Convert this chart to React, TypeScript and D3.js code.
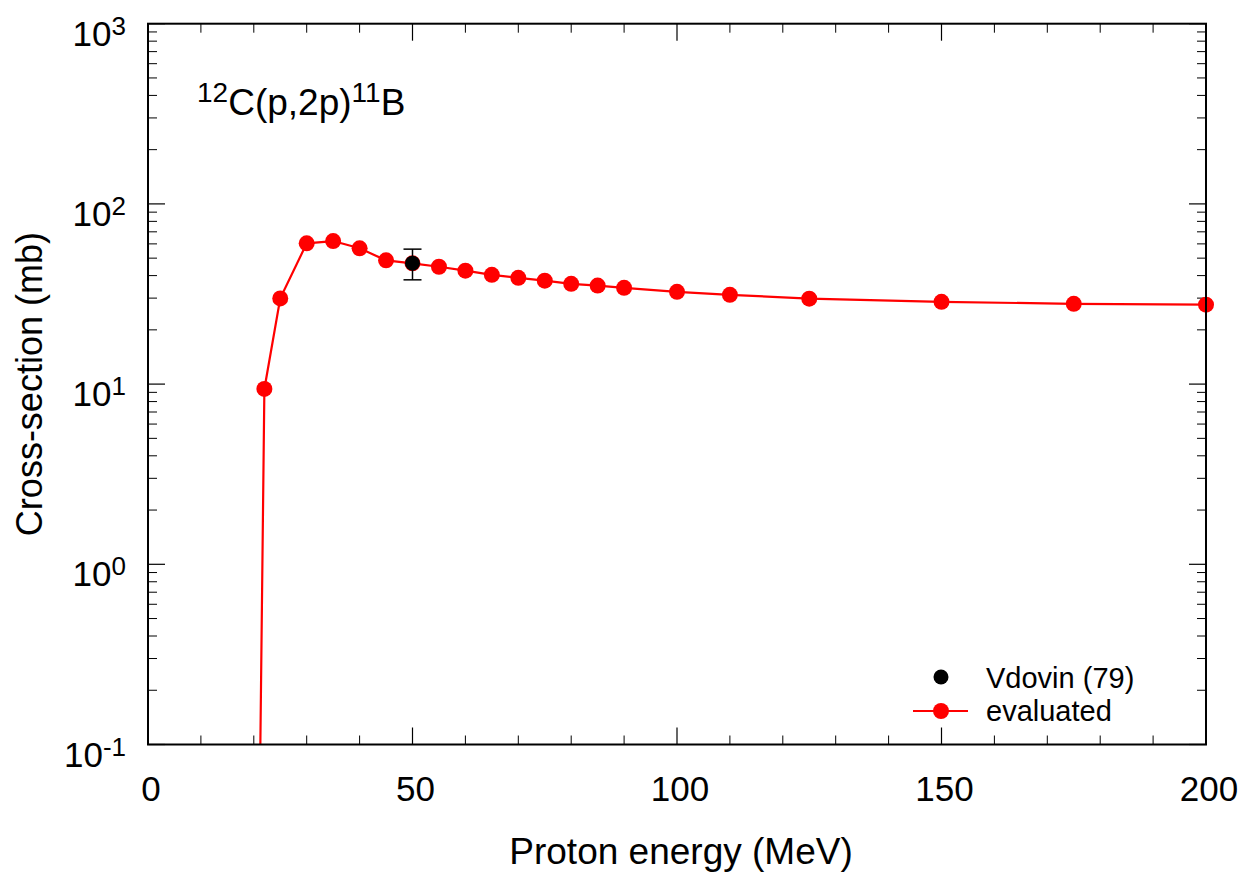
import React from "react";
import * as d3 from "d3";

const energies = [21, 22, 25, 30, 35, 40, 45, 50, 55, 60, 65, 70, 75, 80, 85, 90, 100, 110, 125, 150, 175, 200];
const evaluated = [0.024, 9.4, 29.9, 60.4, 62.2, 56.7, 48.6, 46.8, 44.8, 42.6, 40.4, 38.9, 37.5, 36.0, 35.2, 34.2, 32.5, 31.3, 29.8, 28.6, 27.9, 27.6];

const expEnergy = [50];
const expValue = [46.9];
const expLow = [37.9];
const expHigh = [56.1];

const xMajorTicks = [0, 50, 100, 150, 200];
const yDecades = [-1, 0, 1, 2, 3];

const W = 1254;
const H = 877;
const left = 148;
const right = 1206;
const top = 23.7;
const bottom = 744.5;
const FONT = "'Liberation Sans', Arial, Helvetica, sans-serif";

export default function App() {
  const x = d3.scaleLinear().domain([0, 200]).range([left, right]);
  const y = d3.scaleLog().domain([0.1, 1000]).range([bottom, top]);

  const pts: [number, number][] = energies.map((e, i) => [e, evaluated[i]]);
  const visiblePts = pts.filter((p) => p[1] >= 0.1);
  const line = d3
    .line<[number, number]>()
    .x((d) => x(d[0]))
    .y((d) => y(d[1]));

  const xMinor = d3.range(0, 201, 10).filter((v) => v % 50 !== 0);
  const yMinor: number[] = [];
  for (let dec = -1; dec < 3; dec++) {
    for (let m = 2; m <= 9; m++) yMinor.push(m * Math.pow(10, dec));
  }

  const maj = 17;
  const mnr = 9;

  return (
    <div style={{ position: "absolute", left: 0, top: 0 }}>
      <svg width={W} height={H} style={{ display: "block", background: "#fff" }} fontFamily={FONT}>
        <defs>
          <clipPath id="plotclip">
            <rect x={left} y={top} width={right - left} height={bottom - top} />
          </clipPath>
        </defs>
        <rect x={0} y={0} width={W} height={H} fill="#fff" />

        {/* x ticks */}
        {xMinor.map((v) => (
          <g key={"xm" + v}>
            <line x1={x(v)} x2={x(v)} y1={bottom} y2={bottom - mnr} stroke="#000" strokeWidth={1} />
            <line x1={x(v)} x2={x(v)} y1={top} y2={top + mnr} stroke="#000" strokeWidth={1} />
          </g>
        ))}
        {xMajorTicks.map((v) => (
          <g key={"xM" + v}>
            <line x1={x(v)} x2={x(v)} y1={bottom} y2={bottom - maj} stroke="#000" strokeWidth={1.2} />
            <line x1={x(v)} x2={x(v)} y1={top} y2={top + maj} stroke="#000" strokeWidth={1.2} />
            <text x={x(v) + 3} y={801} textAnchor="middle" fontSize={35} fill="#000">
              {v}
            </text>
          </g>
        ))}

        {/* y ticks */}
        {yMinor.map((v) => (
          <g key={"ym" + v}>
            <line x1={left} x2={left + mnr} y1={y(v)} y2={y(v)} stroke="#000" strokeWidth={1} />
            <line x1={right} x2={right - mnr} y1={y(v)} y2={y(v)} stroke="#000" strokeWidth={1} />
          </g>
        ))}
        {yDecades.map((d) => {
          const v = Math.pow(10, d);
          return (
            <g key={"yM" + d}>
              <line x1={left} x2={left + maj} y1={y(v)} y2={y(v)} stroke="#000" strokeWidth={1.2} />
              <line x1={right} x2={right - maj} y1={y(v)} y2={y(v)} stroke="#000" strokeWidth={1.2} />
              <text x={126} y={y(v) + 22} textAnchor="end" fontSize={35} fill="#000">
                10
                <tspan fontSize={26} dy={-11}>
                  {d}
                </tspan>
              </text>
            </g>
          );
        })}

        {/* data */}
        <g clipPath="url(#plotclip)">
          <path d={line(pts) || ""} fill="none" stroke="#ff0000" strokeWidth={2.2} />
        </g>
        {visiblePts.map((p, i) => (
          <circle key={"p" + i} cx={x(p[0])} cy={y(p[1])} r={8} fill="#ff0000" />
        ))}
        {expEnergy.map((e, i) => (
          <g key={"e" + i}>
            <line x1={x(e)} x2={x(e)} y1={y(expLow[i])} y2={y(expHigh[i])} stroke="#000" strokeWidth={1.5} />
            <line x1={x(e) - 9} x2={x(e) + 9} y1={y(expLow[i])} y2={y(expLow[i])} stroke="#000" strokeWidth={1.5} />
            <line x1={x(e) - 9} x2={x(e) + 9} y1={y(expHigh[i])} y2={y(expHigh[i])} stroke="#000" strokeWidth={1.5} />
            <circle cx={x(e)} cy={y(expValue[i])} r={7.5} fill="#000" />
          </g>
        ))}

        {/* frame */}
        <rect x={left} y={top} width={right - left} height={bottom - top} fill="none" stroke="#000" strokeWidth={2} />

        {/* annotation */}
        <text x={197} y={115} fontSize={37} fill="#000">
          <tspan fontSize={28} dy={-13}>12</tspan>
          <tspan dy={13}>C(p,2p)</tspan>
          <tspan fontSize={28} dy={-13}>11</tspan>
          <tspan dy={13}>B</tspan>
        </text>

        {/* legend */}
        <circle cx={941} cy={677} r={7.5} fill="#000" />
        <text x={986} y={688} fontSize={29} fill="#000">Vdovin (79)</text>
        <line x1={913} x2={968} y1={711} y2={711} stroke="#ff0000" strokeWidth={2.2} />
        <circle cx={941} cy={711} r={8} fill="#ff0000" />
        <text x={986} y={721} fontSize={29} fill="#000">evaluated</text>

        {/* axis titles */}
        <text x={(left + right) / 2 + 4} y={864} textAnchor="middle" fontSize={37} fill="#000">
          Proton energy (MeV)
        </text>
        <text
          transform={`translate(42, ${(top + bottom) / 2}) rotate(-90)`}
          textAnchor="middle"
          fontSize={36}
          fill="#000"
        >
          Cross-section (mb)
        </text>
      </svg>
    </div>
  );
}
